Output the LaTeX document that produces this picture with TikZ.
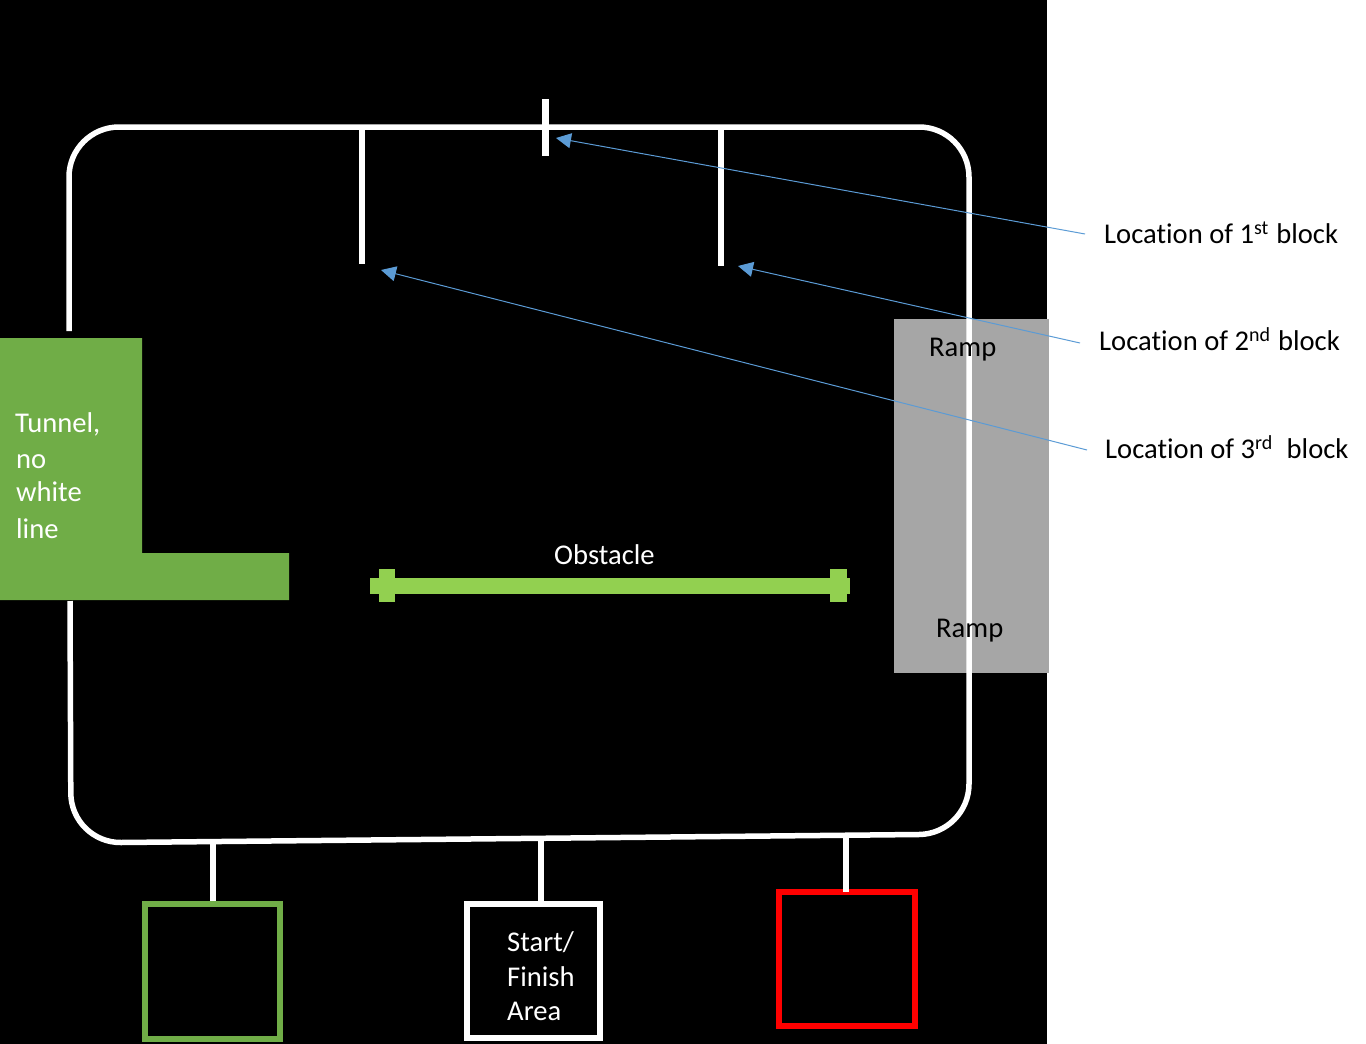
\documentclass[tikz,border=0pt]{standalone}
\usepackage{fontspec}
\setmainfont{Carlito}[Ligatures=NoCommon]
\usetikzlibrary{arrows.meta}
\definecolor{tgreen}{RGB}{112,173,71}
\definecolor{obgreen}{RGB}{146,208,80}
\definecolor{rampgray}{RGB}{166,166,166}
\definecolor{arrowblue}{RGB}{91,155,213}
\newcommand{\supr}[1]{\raisebox{9pt}{\fontsize{20}{24}\selectfont #1}\kern1.5pt\relax}
\tikzset{
  track/.style={draw=white,line width=5.5pt,line join=round},
  stub/.style={draw=white,line width=6pt},
  boxnode/.style={draw,line width=6.5pt,minimum width=135pt,minimum height=135pt,inner sep=0pt,fill=black},
  lbl/.style={anchor=base west,inner sep=0pt,font=\fontsize{28.6}{34}\selectfont},
  pointer/.style={draw=arrowblue,line width=1pt,-{Triangle[length=15pt,width=15pt,fill=arrowblue]}},
}
\begin{document}
\begin{tikzpicture}[x=1pt,y=-1pt]
\useasboundingbox (0,0) rectangle (1366,1044);
\fill[black] (0,0) rectangle (1047,1044);
% ramp
\fill[rampgray] (894,319) rectangle (1049,673);
% track
\draw[track,rounded corners=50pt] (69,331) -- (69,127) -- (969,127) -- (969,834) -- (71,843) -- (70,601);
% coordinates on the track
\coordinate (t1) at (362,127);
\coordinate (t2) at (721,127);
\coordinate (e1) at (362,264);
\coordinate (e2) at (721,266);
\coordinate (b1t) at (545,99);
\coordinate (b1b) at (545,156);
\coordinate (s1) at (213,843);
\coordinate (s2) at (541,840);
\coordinate (s3) at (846,836);
\coordinate (s3e) at (846,892);
\draw[stub] (t1) -- (e1);
\draw[stub] (t2) -- (e2);
\draw[stub,line width=7pt] (b1t) -- (b1b);
% tunnel
\fill[tgreen] (0,338) -- (142,338) -- (142,553) -- (289,553) -- (289,600) -- (0,600) -- cycle;
% obstacle
\fill[obgreen] (370,578) rectangle (850,594);
\fill[obgreen] (379,569) rectangle (395,602);
\fill[obgreen] (830,569) rectangle (847,602);
% boxes
\node[boxnode,draw=tgreen] (gbox) at (212.5,971.5) {};
\node[boxnode,draw=white,minimum width=133pt,minimum height=134pt] (wbox) at (533.5,971) {};
\node[boxnode,draw=red,minimum width=136pt,minimum height=134pt] (rbox) at (847,959) {};
\draw[stub] (s1) -- (s1 |- gbox.north);
\draw[stub] (s2) -- (s2 |- wbox.north);
\draw[stub] (s3) -- (s3e);
% labels
\node[lbl,text=white] (tun1) at (15,432) {Tunnel,};
\node[lbl,text=white] (tun2) at (16,468) {no};
\node[lbl,text=white] (tun3) at (16,501) {white};
\node[lbl,text=white] (tun4) at (16,538) {line};
\node[lbl,text=white] (obs) at (554,564) {Obstacle};
\node[lbl,text=white] (st1) at (507,951) {Start/};
\node[lbl,text=white] (st2) at (507,986) {Finish};
\node[lbl,text=white] (st3) at (507,1020) {Area};
\node[lbl] (ramp1) at (929,356) {Ramp};
\node[lbl] (ramp2) at (936,637) {Ramp};
\node[lbl] (loc1) at (1104,243) {Location of 1\supr{st} block};
\node[lbl] (loc2) at (1099,350) {Location of 2\supr{nd} block};
\node[lbl] (loc3) at (1105,458) {Location of 3\supr{rd}\ \ block};
% pointers
\coordinate (p1s) at (1085,234);
\coordinate (p1e) at (556,138);
\coordinate (p2s) at (1080,343);
\coordinate (p2e) at (738,266);
\coordinate (p3s) at (1087,450);
\coordinate (p3e) at (381,270);
\draw[pointer] (p1s) -- (p1e);
\draw[pointer] (p2s) -- (p2e);
\draw[pointer] (p3s) -- (p3e);
\end{tikzpicture}
\end{document}
